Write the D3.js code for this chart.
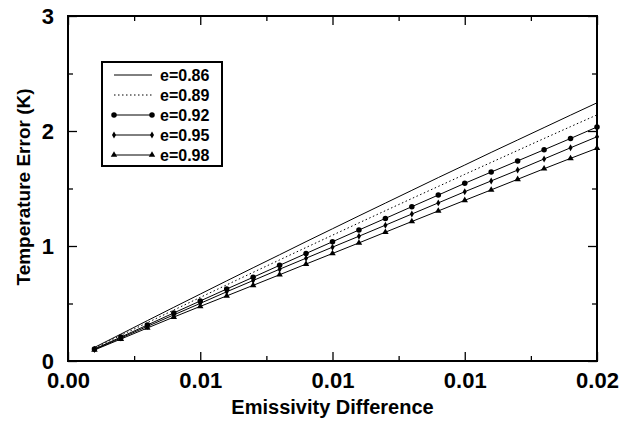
<!DOCTYPE html>
<html>
<head>
<meta charset="utf-8">
<script src="https://cdn.jsdelivr.net/npm/d3@7"></script>
<style>
  body { margin: 0; background: #fff; }
  svg { display: block; font-family: "Liberation Sans", Arial, sans-serif; }
</style>
</head>
<body>
<div id="chart"></div>
<script>
// data
const diffs = [0.001, 0.002, 0.003, 0.004, 0.005, 0.006, 0.007, 0.008, 0.009, 0.010,
               0.011, 0.012, 0.013, 0.014, 0.015, 0.016, 0.017, 0.018, 0.019, 0.020];
const e086 = [0.118, 0.234, 0.351, 0.467, 0.582, 0.697, 0.811, 0.924, 1.038, 1.150,
              1.262, 1.373, 1.484, 1.595, 1.704, 1.814, 1.922, 2.030, 2.138, 2.245];
const e089 = [0.112, 0.223, 0.333, 0.443, 0.553, 0.662, 0.771, 0.879, 0.987, 1.094,
              1.201, 1.307, 1.413, 1.518, 1.623, 1.727, 1.831, 1.935, 2.038, 2.140];
const e092 = [0.104, 0.208, 0.313, 0.418, 0.522, 0.626, 0.728, 0.832, 0.935, 1.037,
              1.139, 1.240, 1.342, 1.443, 1.545, 1.643, 1.740, 1.837, 1.935, 2.035];
const e095 = [0.100, 0.200, 0.301, 0.401, 0.501, 0.602, 0.700, 0.798, 0.894, 0.990,
              1.085, 1.181, 1.278, 1.375, 1.472, 1.566, 1.660, 1.757, 1.854, 1.950];
const e098 = [0.096, 0.191, 0.287, 0.382, 0.475, 0.566, 0.658, 0.750, 0.843, 0.935,
              1.027, 1.120, 1.213, 1.305, 1.397, 1.488, 1.580, 1.672, 1.762, 1.850];
const seriesNames = ["e=0.86", "e=0.89", "e=0.92", "e=0.95", "e=0.98"];

const xMajor = [0, 0.005, 0.01, 0.015, 0.02];
const xTickLabels = ["0.00", "0.01", "0.01", "0.01", "0.02"];
const xMinor = [0.0025, 0.0075, 0.0125, 0.0175];
const yMajor = [0, 1, 2, 3];
const yTickLabels = ["0", "1", "2", "3"];
const yMinor = [0.5, 1.5, 2.5];

const series = [
  { name: seriesNames[0], values: e086, dash: null,  symbol: null },
  { name: seriesNames[1], values: e089, dash: "1.5,2.5", symbol: null },
  { name: seriesNames[2], values: e092, dash: null,  symbol: d3.symbolCircle,   size: 24 },
  { name: seriesNames[3], values: e095, dash: null,  symbol: d3.symbolDiamond,  size: 14 },
  { name: seriesNames[4], values: e098, dash: null,  symbol: d3.symbolTriangle, size: 18 }
];

// svg & margins
const W = 629, H = 423;
const margin = { top: 16, right: 32, bottom: 62, left: 68 };
const width = W - margin.left - margin.right;
const height = H - margin.top - margin.bottom;

const svg = d3.select("#chart").append("svg")
  .attr("width", W)
  .attr("height", H);

const g = svg.append("g")
  .attr("transform", `translate(${margin.left},${margin.top})`);

const x = d3.scaleLinear().domain([0, 0.02]).range([0, width]);
const y = d3.scaleLinear().domain([0, 3]).range([height, 0]);

// ticks on all four sides, pointing inward
function styleAxis(sel) {
  sel.select(".domain").remove();
  sel.selectAll("line").attr("stroke", "#000").attr("stroke-width", 1.3);
}
function styleLabels(sel) {
  sel.selectAll("text")
    .attr("font-size", 22)
    .attr("font-weight", "bold")
    .attr("fill", "#000")
    .attr("font-family", "Liberation Sans, Arial, sans-serif");
}
const fmtX = d => xTickLabels[xMajor.indexOf(d)];
const fmtY = d => yTickLabels[yMajor.indexOf(d)];

g.append("g").attr("transform", `translate(0,${height})`)
  .call(d3.axisBottom(x).tickValues(xMajor).tickSize(-9).tickPadding(11).tickFormat(fmtX))
  .call(styleAxis)
  .call(styleLabels);
g.append("g").attr("transform", `translate(0,${height})`)
  .call(d3.axisBottom(x).tickValues(xMinor).tickSize(-5).tickFormat(""))
  .call(styleAxis);
g.append("g")
  .call(d3.axisTop(x).tickValues(xMajor).tickSize(-9).tickFormat(""))
  .call(styleAxis);
g.append("g")
  .call(d3.axisTop(x).tickValues(xMinor).tickSize(-5).tickFormat(""))
  .call(styleAxis);

g.append("g")
  .call(d3.axisLeft(y).tickValues(yMajor).tickSize(-9).tickPadding(14).tickFormat(fmtY))
  .call(styleAxis)
  .call(styleLabels);
g.append("g")
  .call(d3.axisLeft(y).tickValues(yMinor).tickSize(-5).tickFormat(""))
  .call(styleAxis);
g.append("g").attr("transform", `translate(${width},0)`)
  .call(d3.axisRight(y).tickValues(yMajor).tickSize(-9).tickFormat(""))
  .call(styleAxis);
g.append("g").attr("transform", `translate(${width},0)`)
  .call(d3.axisRight(y).tickValues(yMinor).tickSize(-5).tickFormat(""))
  .call(styleAxis);

// frame
g.append("rect")
  .attr("width", width).attr("height", height)
  .attr("fill", "none").attr("stroke", "#000").attr("stroke-width", 2);

// lines
const line = d3.line()
  .x((d, i) => x(diffs[i]))
  .y(d => y(d));

g.selectAll("path.series")
  .data(series)
  .join("path")
    .attr("class", "series")
    .attr("fill", "none")
    .attr("stroke", "#000")
    .attr("stroke-width", 1)
    .attr("stroke-dasharray", d => d.dash)
    .attr("d", d => line(d.values));

// markers
series.filter(s => s.symbol).forEach(s => {
  g.append("g").selectAll("path")
    .data(s.values)
    .join("path")
      .attr("transform", (d, i) => `translate(${x(diffs[i])},${y(d)})`)
      .attr("d", d3.symbol(s.symbol, s.size))
      .attr("fill", "#000");
});

// legend
const lg = svg.append("g").attr("transform", "translate(102,62)");
lg.append("rect")
  .attr("width", 120).attr("height", 104)
  .attr("fill", "#fff").attr("stroke", "#000").attr("stroke-width", 2);

const rows = lg.selectAll("g.row")
  .data(series)
  .join("g")
    .attr("class", "row")
    .attr("transform", (d, i) => `translate(0,${13 + i * 20})`);

rows.append("line")
  .attr("x1", 12).attr("x2", 50)
  .attr("stroke", "#000").attr("stroke-width", 1)
  .attr("stroke-dasharray", d => d.dash);

rows.filter(d => d.symbol).selectAll("path")
  .data(d => [12, 50].map(px => ({ px, s: d })))
  .join("path")
    .attr("transform", d => `translate(${d.px},0)`)
    .attr("d", d => d3.symbol(d.s.symbol, d.s.size)())
    .attr("fill", "#000");

rows.append("text")
  .attr("x", 58)
  .attr("y", 6)
  .attr("font-size", 16)
  .attr("font-weight", "bold")
  .text(d => d.name);

// axis titles
svg.append("text")
  .attr("x", margin.left + width / 2)
  .attr("y", 414)
  .attr("text-anchor", "middle")
  .attr("font-size", 20)
  .attr("font-weight", "bold")
  .text("Emissivity Difference");

svg.append("text")
  .attr("transform", "translate(30,187) rotate(-90)")
  .attr("text-anchor", "middle")
  .attr("font-size", 19)
  .attr("font-weight", "bold")
  .text("Temperature Error (K)");
</script>
</body>
</html>
